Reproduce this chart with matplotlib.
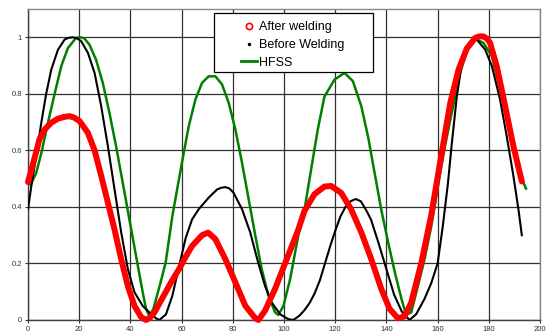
import matplotlib
matplotlib.use("Agg")
import matplotlib.pyplot as plt
from matplotlib.lines import Line2D
from matplotlib.patches import Rectangle

plt.rcParams['font.family'] = ['Liberation Sans', 'DejaVu Sans']

# After welding (red circles)
after_x = [0, 2.6, 4.5, 6.5, 9.1, 11.7, 14, 16.2, 18, 20.1, 23.4, 26, 28.6, 31.2,
           33.8, 36.4, 39, 41.6, 44.2, 46.1, 47.6, 49.4, 53, 56, 59, 62, 64.1, 68,
           70.4, 73.2, 77.1, 81, 84.9, 88.8, 90, 92.6, 96.5, 100.4, 105.6, 108,
           111.9, 115.8, 118.4, 122.3, 126.2, 130.2, 134.1, 138, 141.2, 144.5,
           147.1, 149.7, 153.6, 157.5, 161.4, 165, 168.2, 171.4, 174.7, 176.3,
           177.9, 179.3, 180.5, 183.1, 186.4, 189.6, 192.9]
after_y = [0.488, 0.574, 0.64, 0.674, 0.698, 0.712, 0.718, 0.721, 0.716, 0.704,
           0.662, 0.60, 0.51, 0.415, 0.32, 0.215, 0.12, 0.05, 0.01, 0.0, 0.008,
           0.027, 0.086, 0.135, 0.18, 0.23, 0.262, 0.30, 0.309, 0.286, 0.215,
           0.133, 0.05, 0.006, 0.0, 0.033, 0.11, 0.2, 0.32, 0.386, 0.445, 0.472,
           0.474, 0.45, 0.392, 0.31, 0.215, 0.11, 0.04, 0.006, 0.013, 0.062, 0.2,
           0.37, 0.58, 0.77, 0.886, 0.96, 0.998, 1.003, 1.003, 0.995, 0.98, 0.898,
           0.756, 0.615, 0.49]

# Before Welding (black dots)
before_x = [0, 1.3, 3.2, 5.2, 7.1, 9.1, 11.7, 14.3, 15.8, 17.5, 19.2, 20.8, 23.4,
            26, 28.6, 31.2, 33.8, 36.4, 39, 41.6, 44.8, 47.4, 50, 51.3, 53.9, 56.4,
            59, 61.6, 64.1, 66.7, 70.6, 73.9, 75.6, 77.1, 78.7, 80.3, 83.6, 86.8,
            90, 92.6, 95.2, 98.5, 101.7, 103.6, 106, 108, 110, 112, 114, 116, 118,
            120, 122, 124, 126, 128, 130, 132, 134, 137, 140, 143, 146, 149, 151.6,
            154.9, 157.5, 160, 162, 164, 165.5, 167.5, 169.5, 171.5, 174, 175.5,
            178.6, 181.2, 184.4, 187, 189.6, 191.6, 192.9]
before_y = [0.392, 0.474, 0.58, 0.698, 0.80, 0.886, 0.956, 0.992, 0.998, 1.0,
            0.996, 0.986, 0.945, 0.874, 0.756, 0.615, 0.462, 0.31, 0.18, 0.098,
            0.05, 0.027, 0.006, 0.0, 0.02, 0.086, 0.19, 0.29, 0.356, 0.392, 0.433,
            0.462, 0.468, 0.47, 0.465, 0.45, 0.392, 0.31, 0.2, 0.12, 0.062, 0.02,
            0.003, 0.0, 0.015, 0.035, 0.06, 0.095, 0.14, 0.2, 0.26, 0.315, 0.365,
            0.40, 0.42, 0.428, 0.42, 0.39, 0.355, 0.27, 0.18, 0.09, 0.03, 0.0,
            0.02, 0.075, 0.13, 0.2, 0.33, 0.48, 0.62, 0.79, 0.91, 0.96, 0.99, 0.99,
            0.956, 0.898, 0.78, 0.65, 0.51, 0.39, 0.30]

# HFSS (green line)
hfss_x = [0, 1, 3.2, 5.2, 7.8, 10.4, 13, 15.6, 18.8, 20.5, 22, 24, 26.6, 29.2,
          31.8, 34.4, 37, 39.6, 42.2, 44.8, 46.1, 47.4, 49, 50.5, 52, 53.8, 56.4,
          60, 62.8, 65.4, 68, 70.6, 73.2, 75.8, 78.4, 81, 83.6, 86.2, 88.8, 91.3,
          93.9, 96.5, 97.8, 99.8, 102.4, 105.6, 108, 110.6, 113.2, 115.8, 119.7,
          123.6, 126.9, 130.2, 132.8, 135.4, 138, 140.7, 143.3, 145.9, 147.7,
          149.7, 152.3, 154.9, 157.5, 161, 163, 165, 168.8, 172, 174, 177.9,
          181.2, 184.4, 187.7, 190.9, 194.5]
hfss_y = [0.49, 0.478, 0.52, 0.59, 0.698, 0.80, 0.898, 0.962, 0.998, 1.0, 0.996,
          0.974, 0.92, 0.839, 0.733, 0.615, 0.486, 0.356, 0.227, 0.098, 0.04,
          0.013, 0.04, 0.09, 0.14, 0.205, 0.368, 0.55, 0.686, 0.78, 0.839, 0.862,
          0.862, 0.833, 0.768, 0.674, 0.556, 0.427, 0.298, 0.18, 0.086, 0.027,
          0.018, 0.05, 0.145, 0.3, 0.39, 0.533, 0.674, 0.79, 0.85, 0.874, 0.845,
          0.756, 0.65, 0.52, 0.39, 0.274, 0.168, 0.074, 0.018, 0.027, 0.12,
          0.215, 0.33, 0.52, 0.62, 0.71, 0.874, 0.968, 0.998, 0.98, 0.933, 0.815,
          0.686, 0.545, 0.465]

x_ticks = list(range(0, 201, 20))
y_ticks = [0, 0.2, 0.4, 0.6, 0.8, 1]
y_labels = ['0', '0.2', '0.4', '0.6', '0.8', '1']

fig = plt.figure(figsize=(5.51, 3.34), dpi=100)
ax = fig.add_axes([28/551, 1-320/334, 512/551, 311/334])

ax.set_xlim(0, 200)
ax.set_ylim(0, 1.1)
ax.set_xticks(x_ticks)
ax.set_yticks(y_ticks)
ax.set_yticklabels(y_labels)
ax.tick_params(labelsize=5.5, length=2.5, width=0.8, pad=2, colors='#333333')
ax.grid(True, color='#303030', linewidth=0.9)
ax.set_axisbelow(True)
for s in ['left', 'bottom']:
    ax.spines[s].set_color('#404040')
    ax.spines[s].set_linewidth(1.0)
for s in ['top', 'right']:
    ax.spines[s].set_color('#888888')
    ax.spines[s].set_linewidth(1.0)

ax.plot(hfss_x, hfss_y, color='#008000', lw=1.8, zorder=3)
ax.plot(before_x, before_y, color='black', lw=1.5, zorder=4)
ax.plot(after_x, after_y, color='red', lw=4.3, solid_capstyle='round',
        solid_joinstyle='round', zorder=5, clip_on=False)

# legend frame like the excel one
fig.patches.append(Rectangle((214/551, 1-72/334), 159/551, 59/334,
                             transform=fig.transFigure, facecolor='white',
                             edgecolor='black', linewidth=0.9, zorder=6))
handles = [
    Line2D([], [], linestyle='none', marker='o', mfc='none', mec='red', ms=4.5, mew=1.2),
    Line2D([], [], linestyle='none', marker='.', color='black', ms=3),
    Line2D([], [], color='#008000', lw=2),
]
labels = ['After welding', 'Before Welding', 'HFSS']
leg = fig.legend(handles, labels, loc='upper left', bbox_to_anchor=(235/551, 1-15/334),
                 frameon=False, fontsize=9, borderpad=0, handlelength=1.25,
                 handletextpad=0.15, labelspacing=0.45)
leg.set_zorder(7)

fig.savefig('out.png', dpi=100)
